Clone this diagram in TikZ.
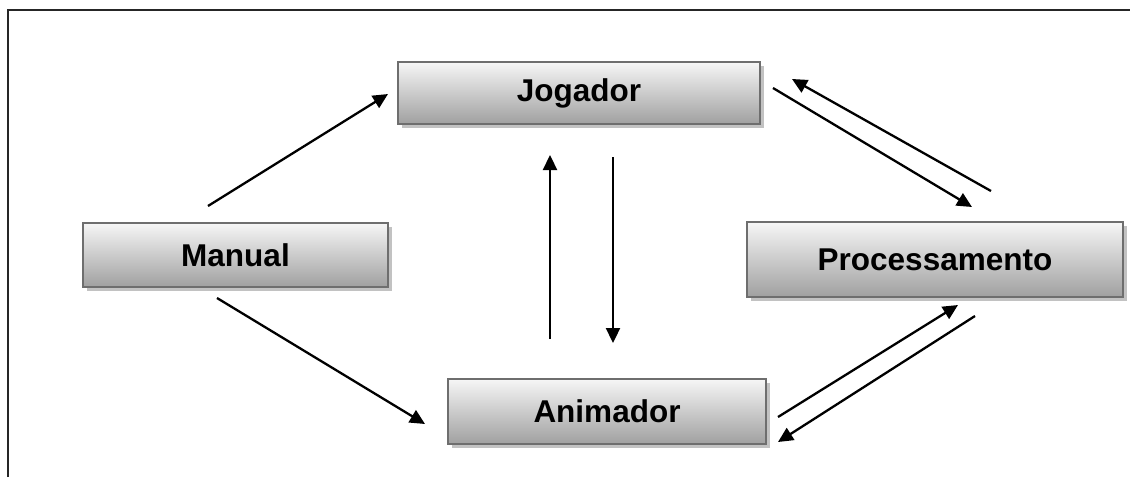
\documentclass[tikz,border=0pt]{standalone}
\usepackage{fontspec}
\setmainfont{Liberation Sans}
\usetikzlibrary{arrows.meta,shadows}
\definecolor{boxline}{HTML}{6E6E6E}
\definecolor{boxtop}{HTML}{F6F6F6}
\definecolor{boxbot}{HTML}{A0A0A0}
\definecolor{boxshadow}{HTML}{C2C2C2}
\tikzset{
  box/.style={draw=boxline, line width=2pt, top color=boxtop, bottom color=boxbot,
    drop shadow={shadow xshift=4pt, shadow yshift=-4pt, fill=boxshadow, opacity=1},
    font=\fontsize{31.5}{36}\selectfont\bfseries, inner sep=0pt, anchor=center},
  conn/.style={line width=2.3pt, -{Triangle[length=15pt,width=14pt]}},
}
\begin{document}
\begin{tikzpicture}[x=1pt,y=-1pt]
\useasboundingbox (0,0) rectangle (1130,477);
\fill[white] (0,0) rectangle (1130,477);
\draw[line width=2.2pt, black!85] (8,477) -- (8,10) -- (1130,10);

\node[box, minimum width=362pt, minimum height=62pt] (jog) at (579,93) {Jogador};
\node[box, minimum width=305pt, minimum height=64pt] (man) at (235.5,255) {Manual};
\node[box, minimum width=376pt, minimum height=75pt] (pro) at (935,259.5) {Processamento};
\node[box, minimum width=318pt, minimum height=65pt] (ani) at (607,411.5) {Animador};

\coordinate (mj1) at (208,206);  \coordinate (mj2) at (388,94);
\coordinate (ma1) at (217,298);  \coordinate (ma2) at (425,424);
\coordinate (aj1) at (550,339);  \coordinate (aj2) at (550,155);
\coordinate (ja1) at (613,157);  \coordinate (ja2) at (613,343);
\coordinate (jp1) at (773,88);   \coordinate (jp2) at (972,207);
\coordinate (pj1) at (991,191);  \coordinate (pj2) at (792,79);
\coordinate (ap1) at (778,417);  \coordinate (ap2) at (958,305);
\coordinate (pa1) at (975,316);  \coordinate (pa2) at (778,442);

\draw[conn] (mj1) -- (mj2);
\draw[conn] (ma1) -- (ma2);
\draw[conn] (aj1) -- (aj2);
\draw[conn] (ja1) -- (ja2);
\draw[conn] (jp1) -- (jp2);
\draw[conn] (pj1) -- (pj2);
\draw[conn] (ap1) -- (ap2);
\draw[conn] (pa1) -- (pa2);
\end{tikzpicture}
\end{document}
